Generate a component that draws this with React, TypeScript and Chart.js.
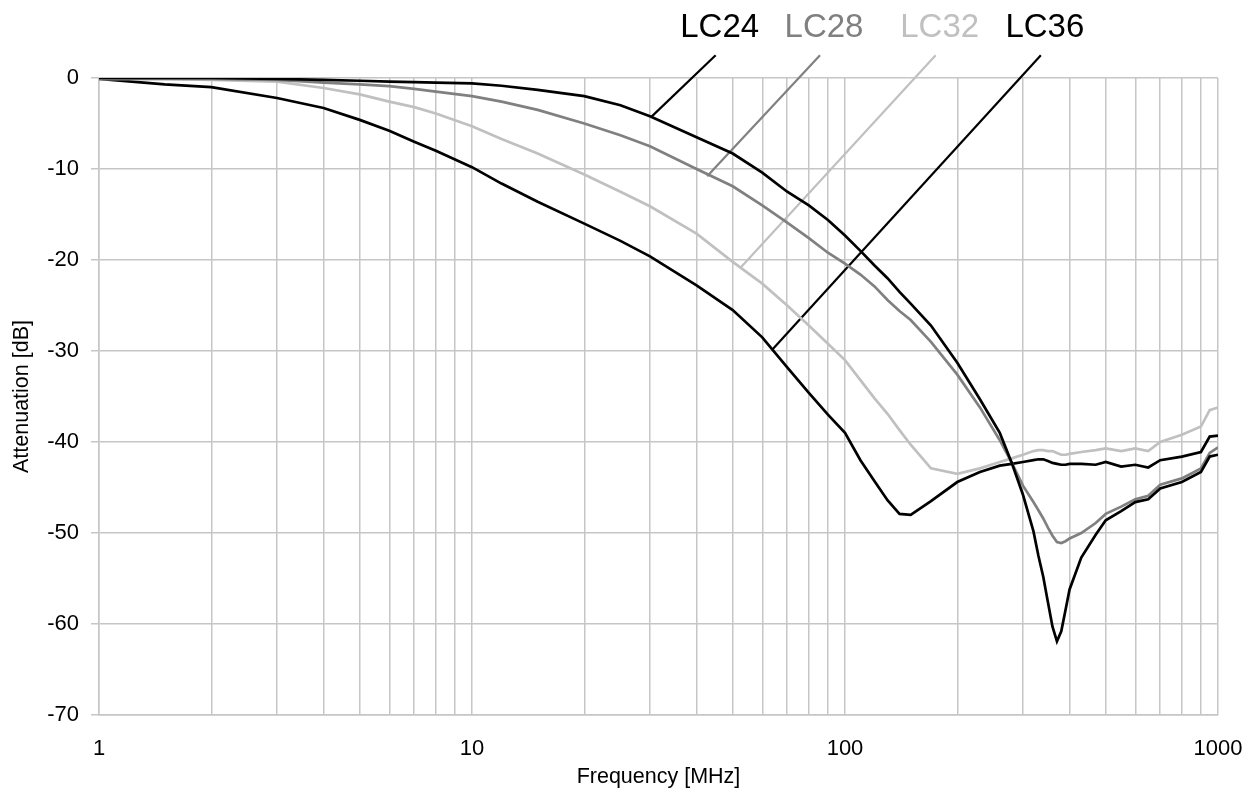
import React, { useEffect, useRef } from 'react';
import { Chart, registerables } from 'chart.js';

Chart.register(...registerables);

// Frequencies [MHz] at which the curves were read
const frequencies = [
  1, 1.5, 2, 3, 4, 5, 6, 7, 8, 10,
  12, 15, 20, 25, 30, 40, 50, 60, 70, 80,
  90, 100, 110, 120, 130, 140, 150, 170, 200, 230,
  260, 280, 300, 320, 330, 340, 350, 360, 370, 380,
  390, 400, 430, 470, 500, 550, 600, 650, 700, 800,
  900, 950, 1000,
];

// Attenuation [dB]
const lc24 = [
  0, 0, 0, -0.1, -0.2, -0.3, -0.4, -0.45, -0.5, -0.6,
  -0.85, -1.3, -2.0, -3.0, -4.2, -6.5, -8.3, -10.4, -12.5, -14.0,
  -15.6, -17.3, -19.0, -20.6, -22.0, -23.5, -24.8, -27.2, -31.3, -35.3,
  -39.0, -42.3, -45.8, -49.8, -52.5, -54.8, -57.6, -60.3, -61.9, -60.8,
  -58.5, -56.2, -52.7, -50.2, -48.6, -47.6, -46.6, -46.3, -45.1, -44.4,
  -43.3, -41.6, -41.4,
];
const lc28 = [
  -0.1, -0.1, -0.1, -0.2, -0.5, -0.7, -0.9, -1.2, -1.5, -2.0,
  -2.6, -3.5, -5.0, -6.3, -7.5, -10.0, -11.9, -14.0, -15.9, -17.6,
  -19.2, -20.4, -21.6, -22.9, -24.4, -25.6, -26.6, -29.0, -32.6, -36.2,
  -39.8, -42.3, -44.8, -46.6, -47.5, -48.4, -49.4, -50.3, -51.0, -51.1,
  -50.9, -50.6, -50.0, -48.9, -47.9, -47.1, -46.3, -45.9, -44.7, -44.0,
  -42.9, -41.2, -40.6,
];
const lc32 = [
  -0.1, -0.1, -0.2, -0.4, -1.1, -1.8, -2.6, -3.2, -3.9, -5.3,
  -6.7, -8.3, -10.6, -12.5, -14.1, -17.1, -20.2, -22.6, -25.0, -27.2,
  -29.2, -31.0, -33.2, -35.2, -36.9, -38.7, -40.3, -42.9, -43.5, -42.9,
  -42.2, -41.8, -41.4, -41.0, -40.9, -40.9, -41.0, -41.0, -41.2, -41.4,
  -41.4, -41.3, -41.1, -40.9, -40.7, -41.0, -40.7, -41.0, -40.0, -39.2,
  -38.3, -36.5, -36.2,
];
const lc36 = [
  -0.1, -0.7, -1.0, -2.2, -3.3, -4.6, -5.8, -7.0, -8.0, -9.8,
  -11.6, -13.6, -16.0, -17.9, -19.6, -22.8, -25.5, -28.5, -31.8, -34.6,
  -37.0, -39.0, -42.0, -44.3, -46.4, -47.9, -48.0, -46.5, -44.4, -43.3,
  -42.6, -42.4, -42.2, -42.0, -41.9, -41.9, -42.1, -42.3, -42.4, -42.5,
  -42.5, -42.4, -42.4, -42.5, -42.2, -42.7, -42.5, -42.8, -42.0, -41.6,
  -41.1, -39.4, -39.3,
];

const seriesNames = ['LC24', 'LC28', 'LC32', 'LC36'];
const seriesValues = [lc24, lc28, lc32, lc36];
const seriesColors = ['#000000', '#808080', '#c0c0c0', '#000000'];

// Leader lines: from label (top) to curve (end)
const leaderTopFreq = [45, 85.7, 175, 335];
const leaderTopDb = 2.5;
const leaderEndFreq = [30.2, 42.7, 52.3, 63.7];
const leaderEndDb = [-4.3, -10.8, -20.9, -29.9];

// Axis ticks
const xGridValues = [
  1, 2, 3, 4, 5, 6, 7, 8, 9,
  10, 20, 30, 40, 50, 60, 70, 80, 90,
  100, 200, 300, 400, 500, 600, 700, 800, 900,
  1000,
];
const xLabelValues = [1, 10, 100, 1000];
const yMin = -70;
const yMax = 0;
const yStep = 10;

const FONT = "'Liberation Sans', Arial, Helvetica, sans-serif";
const GRID = '#c6c6c6';

const labelPlugin = {
  id: 'leaderLabels',
  afterDatasetsDraw(chart: any) {
    const { ctx, scales } = chart;
    ctx.save();
    ctx.font = `33px ${FONT}`;
    ctx.textAlign = 'center';
    ctx.textBaseline = 'alphabetic';
    seriesNames.forEach((name, i) => {
      const x = scales.x.getPixelForValue(leaderTopFreq[i]) + 4;
      const y = scales.y.getPixelForValue(leaderTopDb) - 18;
      ctx.fillStyle = seriesColors[i];
      ctx.fillText(name, x, y);
    });
    ctx.restore();
  },
};

export default function App() {
  const ref = useRef<HTMLCanvasElement>(null);

  useEffect(() => {
    const canvas = ref.current;
    if (!canvas) return;

    const curveSets = seriesNames.map((name, i) => ({
      label: name,
      data: frequencies.map((f, j) => ({ x: f, y: seriesValues[i][j] })),
      borderColor: seriesColors[i],
      backgroundColor: seriesColors[i],
      borderWidth: 2.7,
      pointRadius: 0,
      tension: 0,
      fill: false,
    }));

    const leaderSets = seriesNames.map((name, i) => ({
      label: name + ' leader',
      data: [
        { x: leaderTopFreq[i], y: leaderTopDb },
        { x: leaderEndFreq[i], y: leaderEndDb[i] },
      ],
      borderColor: seriesColors[i],
      backgroundColor: seriesColors[i],
      borderWidth: 2.2,
      pointRadius: 0,
      clip: false as any,
      fill: false,
    }));

    const chart = new Chart(canvas, {
      type: 'line',
      data: { datasets: [...curveSets, ...leaderSets] as any },
      options: {
        animation: false,
        responsive: false,
        events: [],
        layout: { padding: { top: 78, right: 37, bottom: 0, left: 0 } },
        plugins: {
          legend: { display: false },
          tooltip: { enabled: false },
        },
        scales: {
          x: {
            type: 'logarithmic',
            min: 1,
            max: 1000,
            afterBuildTicks: (s: any) => {
              s.ticks = xGridValues.map((v) => ({ value: v }));
            },
            afterFit: (s: any) => {
              s.height = 77;
              s.paddingLeft = 0;
              s.paddingRight = 0;
            },
            ticks: {
              autoSkip: false,
              maxRotation: 0,
              padding: 21,
              color: '#000',
              font: { family: FONT, size: 22 },
              callback: (v: any) => (xLabelValues.includes(Number(v)) ? String(v) : ''),
            },
            grid: { color: GRID, lineWidth: 1.5, drawTicks: false },
            border: { color: GRID, width: 1.5 },
            title: {
              display: true,
              text: 'Frequency [MHz]',
              color: '#000',
              font: { family: FONT, size: 21.5 },
              padding: { top: 0, bottom: 2 },
            },
          },
          y: {
            type: 'linear',
            min: yMin,
            max: yMax,
            afterFit: (s: any) => {
              s.width = 99;
              s.paddingTop = 0;
              s.paddingBottom = 0;
            },
            ticks: {
              stepSize: yStep,
              padding: 12,
              color: '#000',
              font: { family: FONT, size: 22 },
            },
            grid: { color: GRID, lineWidth: 1.5, tickLength: 8 },
            border: { color: GRID, width: 1.5 },
            title: {
              display: true,
              text: 'Attenuation [dB]',
              color: '#000',
              font: { family: FONT, size: 21.5 },
              padding: { top: 9, bottom: 0 },
            },
          },
        },
      } as any,
      plugins: [labelPlugin],
    });

    return () => chart.destroy();
  }, []);

  return (
    <div style={{ position: 'fixed', left: 0, top: 0, width: 1255, height: 792, background: '#fff' }}>
      <canvas ref={ref} width={1255} height={792} style={{ width: 1255, height: 792, display: 'block' }} />
    </div>
  );
}
